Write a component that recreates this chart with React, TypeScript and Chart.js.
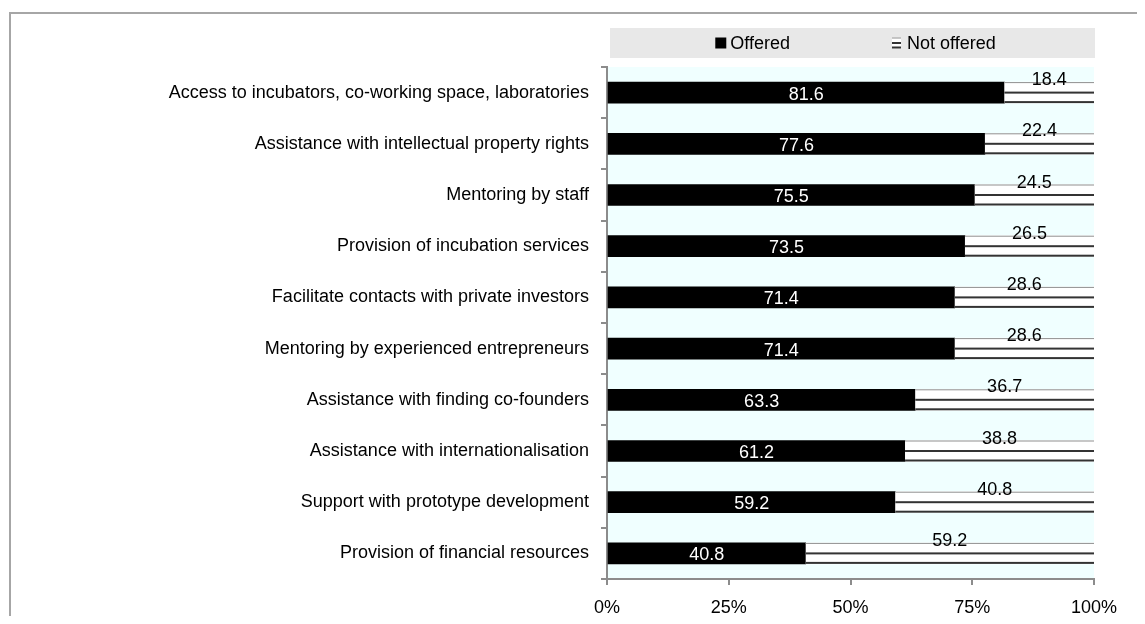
import React, { useEffect, useRef } from "react";
import { Chart, registerables } from "chart.js";

Chart.register(...registerables);

const categories = [
  "Access to incubators, co-working space, laboratories",
  "Assistance with intellectual property rights",
  "Mentoring by staff",
  "Provision of incubation services",
  "Facilitate contacts with private investors",
  "Mentoring by experienced entrepreneurs",
  "Assistance with finding co-founders",
  "Assistance with internationalisation",
  "Support with prototype development",
  "Provision of financial resources",
];
const offered = [81.6, 77.6, 75.5, 73.5, 71.4, 71.4, 63.3, 61.2, 59.2, 40.8];
const notOffered = [18.4, 22.4, 24.5, 26.5, 28.6, 28.6, 36.7, 38.8, 40.8, 59.2];
const seriesNames = ["Offered", "Not offered"];
const xTickValues = [0, 25, 50, 75, 100];

const FONT = "'Liberation Sans', Arial, sans-serif";
const FONT_SIZE = 18;
const AXIS_GRAY = "#8c8c8c";
const LINE_DARK = "#333333";

function drawStripedBox(ctx: CanvasRenderingContext2D, x: number, y: number, w: number, h: number) {
  ctx.save();
  ctx.fillStyle = "#ffffff";
  ctx.fillRect(x, y, w, h);
  ctx.fillStyle = "#909090";
  ctx.fillRect(x, y, w, 1);
  ctx.fillStyle = LINE_DARK;
  ctx.fillRect(x, y + h / 2 - 1, w, 2);
  ctx.fillRect(x, y + h - 2, w, 2);
  ctx.restore();
}

const bgPlugin = {
  id: "bgPlugin",
  beforeDraw(chart: any) {
    const { ctx, chartArea } = chart;
    ctx.save();
    ctx.fillStyle = "#f0ffff";
    ctx.fillRect(chartArea.left, chartArea.top, chartArea.right - chartArea.left, chartArea.bottom - chartArea.top);
    // legend band
    const lx = chartArea.left + 3;
    const lw = chartArea.right - chartArea.left - 2;
    const ly = chartArea.top - 39;
    const lh = 30;
    ctx.fillStyle = "#e8e8e8";
    ctx.fillRect(lx, ly, lw, lh);
    ctx.font = `${FONT_SIZE}px ${FONT}`;
    ctx.textBaseline = "middle";
    const names = chart.data.datasets.map((d: any) => d.label);
    const box = 11;
    const gap = 4;
    const spacing = 102;
    const widths = names.map((n: string) => ctx.measureText(n).width);
    const total = widths.reduce((a: number, b: number) => a + b, 0) + names.length * (box + gap) + spacing * (names.length - 1);
    let x = (chartArea.left + chartArea.right) / 2 + 5 - total / 2;
    const cy = ly + lh / 2;
    names.forEach((n: string, i: number) => {
      if (i === 0) {
        ctx.fillStyle = "#000000";
        ctx.fillRect(x, cy - box / 2, box, box);
      } else {
        drawStripedBox(ctx, x, cy - box / 2, box - 2, box);
      }
      ctx.fillStyle = "#000000";
      ctx.textAlign = "left";
      ctx.fillText(n, x + box + gap, cy + 1);
      x += box + gap + widths[i] + spacing;
    });
    ctx.restore();
  },
};

const labelPlugin = {
  id: "labelPlugin",
  afterDatasetsDraw(chart: any) {
    const { ctx } = chart;
    ctx.save();
    // striped "not offered" bars
    const meta1 = chart.getDatasetMeta(1);
    meta1.data.forEach((el: any) => {
      const left = Math.min(el.x, el.base);
      const w = Math.abs(el.x - el.base);
      const top = el.y - el.height / 2;
      drawStripedBox(ctx, left, top, w, el.height);
    });
    ctx.font = `${FONT_SIZE}px ${FONT}`;
    ctx.textAlign = "center";
    const meta0 = chart.getDatasetMeta(0);
    meta0.data.forEach((el: any, i: number) => {
      const cx = (el.x + el.base) / 2;
      ctx.fillStyle = "#ffffff";
      ctx.textBaseline = "middle";
      ctx.fillText(chart.data.datasets[0].data[i].toFixed(1), cx, el.y + 2);
    });
    meta1.data.forEach((el: any, i: number) => {
      const cx = (el.x + el.base) / 2;
      const top = el.y - el.height / 2;
      ctx.fillStyle = "#000000";
      ctx.textBaseline = "alphabetic";
      ctx.fillText(chart.data.datasets[1].data[i].toFixed(1), cx, top + 3);
    });
    ctx.restore();
  },
};

export default function App() {
  const ref = useRef<HTMLCanvasElement | null>(null);
  useEffect(() => {
    if (!ref.current) return;
    const chart = new Chart(ref.current, {
      type: "bar",
      data: {
        labels: categories,
        datasets: [
          {
            label: seriesNames[0],
            data: offered,
            backgroundColor: "#000000",
            borderWidth: 0,
            barThickness: 21,
          },
          {
            label: seriesNames[1],
            data: notOffered,
            backgroundColor: "#ffffff",
            borderWidth: 0,
            barThickness: 21,
          },
        ],
      },
      options: {
        indexAxis: "y",
        responsive: false,
        animation: false,
        layout: { padding: { top: 53, right: 50, bottom: 0, left: 0 } },
        plugins: {
          legend: { display: false },
          tooltip: { enabled: false },
          title: { display: false },
        },
        scales: {
          x: {
            stacked: true,
            min: 0,
            max: 100,
            afterBuildTicks: (s: any) => {
              s.ticks = xTickValues.map((v) => ({ value: v }));
            },
            afterFit: (s: any) => {
              s.height = 45;
            },
            ticks: {
              callback: (v: any) => `${v}%`,
              color: "#000000",
              font: { family: FONT, size: FONT_SIZE },
              padding: 12,
              maxRotation: 0,
            },
            grid: {
              drawOnChartArea: false,
              drawTicks: true,
              tickLength: 6,
              color: AXIS_GRAY,
              lineWidth: 2,
            },
            border: { display: true, color: AXIS_GRAY, width: 2 },
          },
          y: {
            stacked: true,
            afterFit: (s: any) => {
              s.width = 596;
            },
            ticks: {
              color: "#000000",
              font: { family: FONT, size: FONT_SIZE },
              padding: 12,
            },
            grid: {
              offset: true,
              drawOnChartArea: false,
              drawTicks: true,
              tickLength: 6,
              color: AXIS_GRAY,
              lineWidth: 2,
            },
            border: { display: true, color: AXIS_GRAY, width: 2 },
          },
        },
      },
      plugins: [bgPlugin, labelPlugin],
    });
    return () => chart.destroy();
  }, []);

  return (
    <div
      style={{
        marginTop: 4,
        marginLeft: 1,
        marginBottom: -8,
        borderTop: "2px solid #a6a6a6",
        borderLeft: "2px solid #a6a6a6",
        width: 1133,
        height: 610,
        background: "#ffffff",
      }}
    >
      <canvas ref={ref} width={1133} height={610} style={{ display: "block" }} />
    </div>
  );
}
